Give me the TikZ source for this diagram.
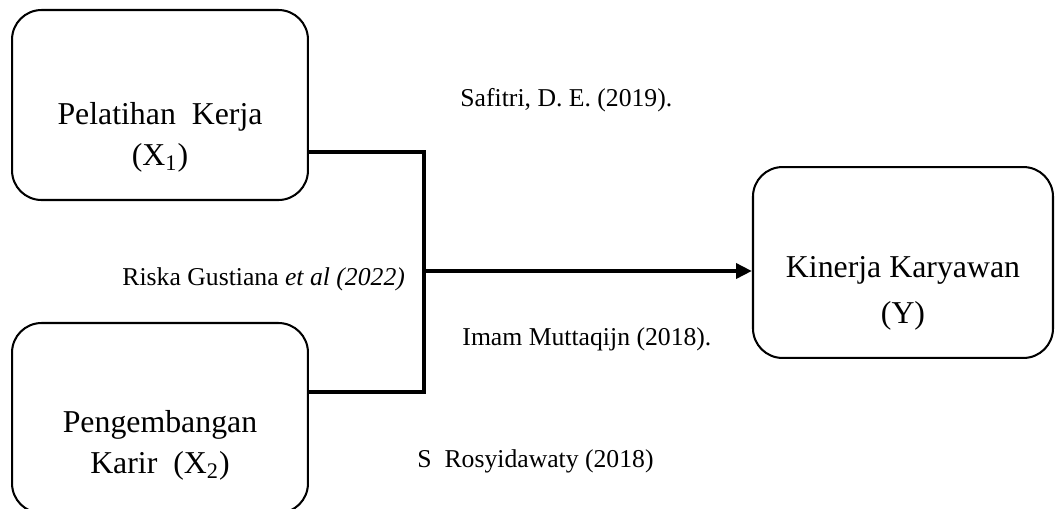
\documentclass[tikz,border=0pt]{standalone}
\usepackage{fontspec}
\setmainfont{Liberation Serif}
\usetikzlibrary{arrows.meta,positioning,calc}

\begin{document}
\begin{tikzpicture}[x=0.44pt,y=-0.44pt,
    box/.style={draw,line width=0.9pt,rounded corners=13pt,
      minimum width=130.2pt,minimum height=83.6pt},
    boxtext/.style={align=center,inner sep=0pt,font=\fontsize{14}{18}\selectfont},
    cite/.style={anchor=base west,inner sep=0pt,font=\fontsize{11.3}{13.6}\selectfont},
    link/.style={line width=1.8pt}]
  \clip (0,0) rectangle (1057,508);
  % boxes
  \node[box] (pelatihan) at (160,105) {};
  \node[box] (pengembangan) at (160,418) {};
  \node[box,minimum width=132pt,minimum height=84pt] (kinerja) at (903,262.5) {};
  \node[boxtext] (pelatihan-txt) at (160,137.5) {Pelatihan\ \ Kerja\\(X\textsubscript{1})};
  \node[boxtext] (pengembangan-txt) at (160,445.5) {Pengembangan\\Karir\ \ (X\textsubscript{2})};
  \node[boxtext,font=\fontsize{14}{20.2}\selectfont] (kinerja-txt) at (903,293.5) {Kinerja Karyawan\\(Y)};
  % connectors
  \coordinate (top) at (424,152);
  \coordinate (bot) at (424,392);
  \coordinate (mid) at (424,271);
  \draw[link] (pelatihan.east |- top) -- (top) -- (bot) -- (pengembangan.east |- bot);
  \draw[link,-{Triangle[length=7pt,width=6.5pt]}] (mid) -- (kinerja.west |- mid);
  % references
  \node[cite] (safitri) at (460,106) {Safitri, D. E. (2019).};
  \node[cite] (riska) at (122,285) {Riska Gustiana \textit{et al (2022)}};
  \node[cite] (imam) at (462,345) {Imam Muttaqijn (2018).};
  \node[cite] (rosy) at (417,467) {S\ \ Rosyidawaty (2018)};
\end{tikzpicture}
\end{document}
